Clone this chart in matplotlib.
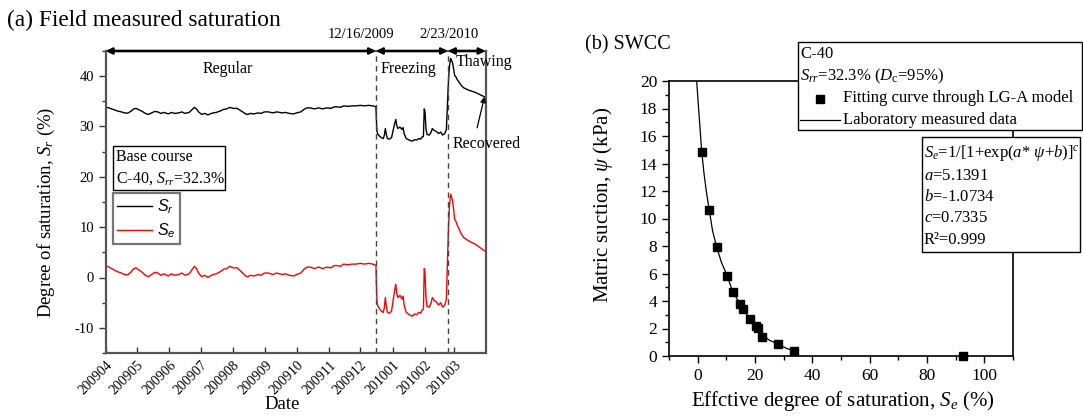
import numpy as np
import pandas as pd
import matplotlib
matplotlib.use("Agg")
import matplotlib.pyplot as plt
from matplotlib.lines import Line2D
from matplotlib.patches import Rectangle

plt.rcParams['font.family'] = ['Liberation Serif', 'DejaVu Serif']
plt.rcParams['mathtext.fontset'] = 'custom'
plt.rcParams['mathtext.rm'] = 'Liberation Serif'
plt.rcParams['mathtext.it'] = 'Liberation Serif:italic'
plt.rcParams['mathtext.sf'] = 'Liberation Sans:italic'
plt.rcParams['axes.unicode_minus'] = False

# ---------------- data: panel (a) ----------------
start_date = "2009-04-01"
end_date = "2010-03-31"
freeze_date = "2009-12-16"
thaw_date = "2010-02-23"
srr = 32.3

days = [0, 3, 7, 11, 15, 18, 21, 24, 27, 29, 32, 35, 38, 41, 44, 47, 50, 53, 56, 60,
        63, 66, 70, 73, 76, 80, 83, 85, 87, 89, 92, 95, 98, 100, 103, 106, 110, 113, 116, 119,
        122, 126, 129, 132, 134, 136, 139, 142, 146, 149, 152, 156, 160, 164, 169, 172, 176, 180, 183, 187,
        190, 193, 196, 200, 204, 208, 212, 216, 219, 222, 225, 228, 232, 236, 240, 244, 248, 252, 256, 258,
        259, 259.5, 260, 261, 262, 264, 266, 267, 268, 269, 270, 272, 274, 275, 277, 278, 279, 280, 282, 284,
        285, 286, 288, 290, 292, 294, 296, 298, 300, 302, 303, 304.5, 305.3, 306, 307, 308, 310, 312, 313, 315,
        317, 319, 321, 323, 325, 326.5, 327.5, 328.5, 329.5, 330.5, 331.5, 332.5, 333.5, 334.5, 335.5, 337, 339, 341, 343, 345,
        348, 351, 354, 357, 360, 363]
sr = [33.9, 33.7, 33.4, 33.1, 32.9, 32.7, 32.65, 33.0, 33.5, 33.6, 33.3, 33.0, 32.6, 32.4, 32.7, 33.0, 32.9, 32.6, 32.8, 32.5,
      32.8, 32.6, 32.7, 32.9, 32.6, 32.8, 33.4, 33.8, 33.5, 32.9, 32.4, 32.6, 32.3, 32.5, 32.7, 32.8, 33.1, 33.4, 33.5, 33.8,
      33.6, 33.6, 33.2, 32.8, 32.5, 32.4, 32.6, 32.5, 32.7, 32.6, 32.9, 32.9, 32.7, 32.9, 32.7, 32.8, 32.6, 32.5, 32.7, 32.9,
      33.4, 33.7, 33.7, 33.5, 33.7, 33.5, 33.7, 33.6, 33.9, 33.9, 33.8, 34.1, 34.0, 34.1, 34.1, 34.2, 34.1, 34.2, 34.1, 34.0,
      33.9, 31.0, 29.0, 28.4, 28.2, 27.8, 27.6, 28.2, 29.6, 28.4, 27.6, 27.5, 27.8, 28.8, 30.6, 31.4, 30.2, 29.6, 29.9, 29.4,
      29.8, 28.6, 27.6, 27.4, 27.2, 27.1, 27.4, 27.3, 27.6, 27.5, 27.9, 28.0, 33.5, 33.0, 29.5, 28.4, 28.3, 28.9, 29.6, 29.2,
      29.0, 28.6, 28.9, 28.3, 28.6, 29.4, 34.0, 39.0, 42.0, 43.5, 43.1, 42.6, 41.3, 40.1, 39.9, 39.3, 38.7, 38.1, 37.7, 37.5,
      37.2, 37.0, 36.8, 36.5, 36.2, 35.9]

# ---------------- data: panel (b) ----------------
se_pts = [1.4, 4.05, 6.6, 10.3, 12.2, 14.8, 15.7, 18.2, 20.3, 20.9, 22.5, 28.1, 33.6, 92.7]
psi_pts = [14.86, 10.6, 7.95, 5.84, 4.68, 3.78, 3.42, 2.67, 2.21, 2.01, 1.41, 0.87, 0.39, 0.0]
se_line = [-0.35, 0.5, 1.4, 2.2, 3.0, 4.05, 5.2, 6.6, 8.3, 10.3, 12.2, 14.8, 15.7, 18.2, 20.3, 21.0, 22.5, 25.0, 28.1, 31.0, 33.6]
psi_line = [20.0, 17.5, 14.9, 13.3, 12.0, 10.6, 9.1, 7.95, 6.8, 5.84, 4.68, 3.78, 3.42, 2.67, 2.21, 2.0, 1.55, 1.15, 0.87, 0.55, 0.39]

W, H = 1083, 417
fig = plt.figure(figsize=(W / 100, H / 100), dpi=100)


def fx(x):
    return x / W


def fy(y):
    return 1 - y / H


# ================= panel (a) =================
AL, AR, AT, AB = 105.7, 485.5, 51, 353
ax = fig.add_axes([fx(AL), fy(AB), (AR - AL) / W, (AB - AT) / H])
t = pd.Timestamp(start_date) + pd.to_timedelta(days, unit='D')
sr_arr = np.array(sr)
se_arr = (sr_arr - srr) / (100 - srr) * 100
ax.plot(t, sr_arr, color='black', lw=1.0)
ax.plot(t, se_arr, color='red', lw=1.0)
ax.set_xlim(pd.Timestamp(start_date), pd.Timestamp(end_date))
ax.set_ylim(-15, 45)
ax.set_yticks([-10, 0, 10, 20, 30, 40])
ax.set_yticks(np.arange(-15, 46, 5), minor=True)
xticks = pd.date_range("2009-04-01", "2010-03-01", freq='MS')
ax.set_xticks(xticks)
ax.set_xticklabels([d.strftime('%Y%m') for d in xticks], rotation=45, ha='right',
                   rotation_mode='anchor', fontsize=10)
ax.tick_params(axis='x', direction='in', length=4, width=1.0, color='#333333', pad=4)
ax.tick_params(axis='y', which='major', direction='out', length=5, width=1.0, labelsize=10.5, color='#333333')
ax.tick_params(axis='y', which='minor', direction='out', length=3, width=1.0, color='#333333')
for s in ax.spines.values():
    s.set_color('#555555')
    s.set_linewidth(1.6)
ax.set_ylabel('Degree of saturation, $S_r$ (%)', fontsize=13.5)
ax.yaxis.set_label_coords((57 - AL) / (AR - AL), (AB - 212) / (AB - AT))
ax.set_xlabel('Date', fontsize=13.5)
ax.xaxis.set_label_coords((282.5 - AL) / (AR - AL), (AB - 396) / (AB - AT))

for d in [freeze_date, thaw_date]:
    ax.axvline(pd.Timestamp(d), color='#444444', lw=1.0, ls=(0, (4, 3)))

edges = [start_date, freeze_date, thaw_date, end_date]
for a, b in zip(edges[:-1], edges[1:]):
    ax.annotate('', xy=(pd.Timestamp(b), 45), xytext=(pd.Timestamp(a), 45),
                arrowprops=dict(arrowstyle='<|-|>', color='black', lw=1.8, mutation_scale=9,
                                shrinkA=0, shrinkB=0),
                annotation_clip=False)

fig.text(fx(361), fy(35), '12/16/2009', ha='center', va='center', fontsize=10.5)
fig.text(fx(449), fy(35), '2/23/2010', ha='center', va='center', fontsize=10.5)
fig.text(fx(228), fy(69), 'Regular', ha='center', va='center', fontsize=11.5)
fig.text(fx(408.5), fy(69), 'Freezing', ha='center', va='center', fontsize=11.5)
fig.text(fx(484), fy(62), 'Thawing', ha='center', va='center', fontsize=11.5)
fig.text(fx(7), fy(20), '(a) Field measured saturation', ha='left', va='center', fontsize=16.8)

ax.annotate('Recovered', xy=(t[-1], sr_arr[-1]), xytext=(fx(452.7), fy(144)),
            textcoords='figure fraction', ha='left', va='center', fontsize=11.5,
            arrowprops=dict(arrowstyle='-|>', color='black', lw=0.9, mutation_scale=8,
                            shrinkA=4, shrinkB=0, relpos=(0.33, 1.0)),
            annotation_clip=False)

# base course box
fig.patches.append(Rectangle((fx(113.3), fy(190)), (225 - 113.3) / W, (190 - 146) / H,
                             transform=fig.transFigure, facecolor='white',
                             edgecolor='black', lw=1.0, zorder=5))
fig.text(fx(116), fy(157), 'Base course', ha='left', va='center', fontsize=11.5, zorder=6)
fig.text(fx(116), fy(179), 'C-40, $S_{rr}$=32.3%', ha='left', va='center', fontsize=11.5, zorder=6)

handles = [Line2D([], [], color='black', lw=1.0), Line2D([], [], color='red', lw=1.0)]
leg = ax.legend(handles, [r'$\mathsf{S}_\mathsf{r}$', r'$\mathsf{S}_\mathsf{e}$'],
                loc='upper left', bbox_to_anchor=(fx(113.3), fy(193.3)),
                bbox_transform=fig.transFigure, frameon=True, fancybox=False,
                fontsize=11.5, handlelength=2.2, handletextpad=0.3, borderpad=0.25,
                labelspacing=0.35, borderaxespad=0)
leg.get_frame().set_edgecolor('#555555')
leg.get_frame().set_linewidth(1.6)

# ================= panel (b) =================
BL, BR, BT, BB = 669, 1013, 81, 356
bx = fig.add_axes([fx(BL), fy(BB), (BR - BL) / W, (BB - BT) / H])
bx.plot(se_line, psi_line, color='black', lw=0.9)
bx.plot(se_pts, psi_pts, ls='none', marker='s', color='black', markersize=5.6, clip_on=False, zorder=4)
bx.set_xlim(-10, 110)
bx.set_ylim(0, 20)
bx.set_xticks([0, 20, 40, 60, 80, 100])
bx.set_xticks(np.arange(-10, 111, 10), minor=True)
bx.set_yticks(np.arange(0, 21, 2))
bx.set_yticks(np.arange(0, 21, 1), minor=True)
bx.tick_params(which='major', direction='out', length=5, width=1.0, labelsize=12.5)
bx.tick_params(which='minor', direction='out', length=3, width=1.0)
for s in bx.spines.values():
    s.set_linewidth(1.2)
bx.set_xlabel('Effctive degree of saturation, $S_e$ (%)', fontsize=15)
bx.xaxis.set_label_coords((842.5 - BL) / (BR - BL), (BB - 389) / (BB - BT))
bx.set_ylabel(r'Matric suction, $\psi$ (kPa)', fontsize=15)
bx.yaxis.set_label_coords((615 - BL) / (BR - BL), (BB - 205) / (BB - BT))
fig.text(fx(585), fy(45), '(b) SWCC', ha='left', va='center', fontsize=14.5)

# legend box (b)
fig.patches.append(Rectangle((fx(798.3), fy(130)), (1081.7 - 798.3) / W, (130 - 41.7) / H,
                             transform=fig.transFigure, facecolor='white',
                             edgecolor='black', lw=1.0, zorder=5))
fig.text(fx(800), fy(53.5), 'C-40', ha='left', va='center', fontsize=12, zorder=6)
fig.text(fx(800), fy(76), '$S_{rr}$=32.3% ($D_{\\rm c}$=95%)', ha='left', va='center', fontsize=12, zorder=6)
fig.add_artist(Line2D([fx(820)], [fy(98.5)], marker='s', color='black', markersize=5.6,
                      transform=fig.transFigure, zorder=6))
fig.text(fx(843), fy(98.5), 'Fitting curve through LG-A model', ha='left', va='center', fontsize=12, zorder=6)
fig.add_artist(Line2D([fx(800), fx(840)], [fy(119.5), fy(119.5)], color='black', lw=0.9,
                      transform=fig.transFigure, zorder=6))
fig.text(fx(843), fy(119.5), 'Laboratory measured data', ha='left', va='center', fontsize=12, zorder=6)

# formula box (b)
fig.patches.append(Rectangle((fx(921.7), fy(251.7)), (1080 - 921.7) / W, (251.7 - 136.7) / H,
                             transform=fig.transFigure, facecolor='white',
                             edgecolor='black', lw=1.0, zorder=5))
flines = [r'$S_e$=1/[1+exp($a$* $\psi$+$b$)]$^c$', '$a$=5.1391', '$b$=-1.0734', '$c$=0.7335', 'R²=0.999']
fys = [153, 176, 197, 218.5, 240]
for txt, yy in zip(flines, fys):
    fig.text(fx(924), fy(yy), txt, ha='left', va='center', fontsize=12, zorder=6)

fig.savefig('out.png', dpi=100)
